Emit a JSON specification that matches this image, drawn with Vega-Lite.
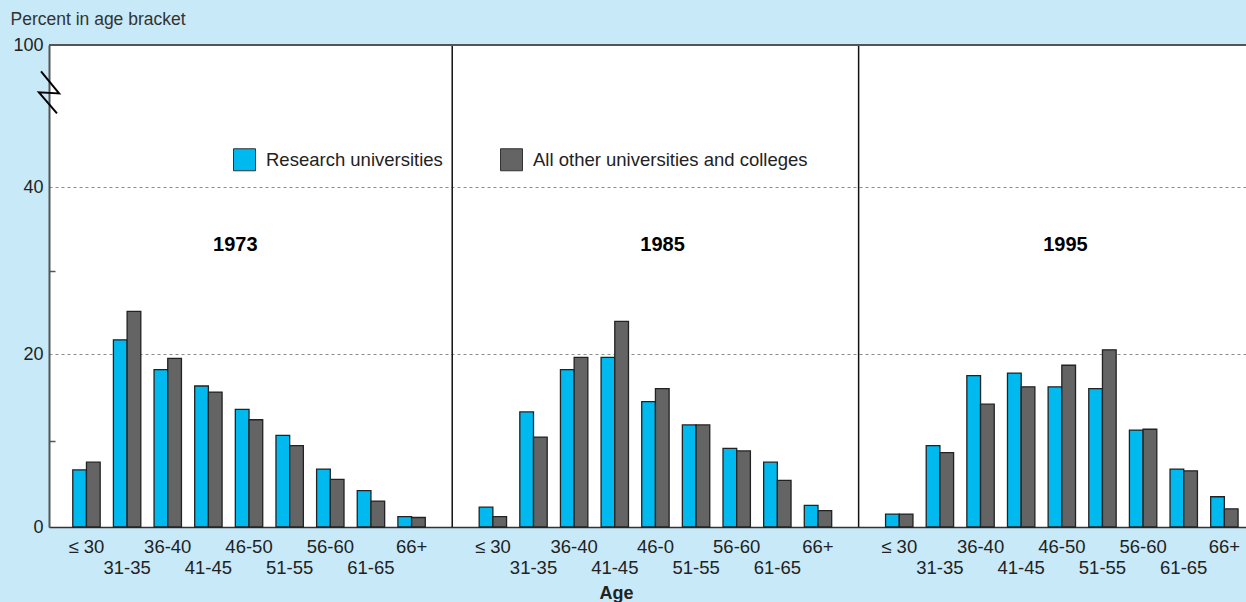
{
  "$schema": "https://vega.github.io/schema/vega-lite/v6.json",
  "width": 1197,
  "height": 482,
  "autosize": {"type": "none"},
  "padding": {"left": 49, "top": 45, "right": 0, "bottom": 75},
  "background": "#c7e9f8",
  "config": {
    "view": {"fill": "white", "stroke": null},
    "font": "Liberation Sans"
  },
  "layer": [
    {
      "data": {"values": [
        {"slot": "1973|0|≤ 30", "series": "Research universities", "value": 6.6},
        {"slot": "1973|1|31-35", "series": "Research universities", "value": 21.7},
        {"slot": "1973|2|36-40", "series": "Research universities", "value": 18.2},
        {"slot": "1973|3|41-45", "series": "Research universities", "value": 16.3},
        {"slot": "1973|4|46-50", "series": "Research universities", "value": 13.6},
        {"slot": "1973|5|51-55", "series": "Research universities", "value": 10.6},
        {"slot": "1973|6|56-60", "series": "Research universities", "value": 6.7},
        {"slot": "1973|7|61-65", "series": "Research universities", "value": 4.2},
        {"slot": "1973|8|66+", "series": "Research universities", "value": 1.2},
        {"slot": "1973|0|≤ 30", "series": "All other universities and colleges", "value": 7.5},
        {"slot": "1973|1|31-35", "series": "All other universities and colleges", "value": 25.1},
        {"slot": "1973|2|36-40", "series": "All other universities and colleges", "value": 19.5},
        {"slot": "1973|3|41-45", "series": "All other universities and colleges", "value": 15.6},
        {"slot": "1973|4|46-50", "series": "All other universities and colleges", "value": 12.4},
        {"slot": "1973|5|51-55", "series": "All other universities and colleges", "value": 9.4},
        {"slot": "1973|6|56-60", "series": "All other universities and colleges", "value": 5.5},
        {"slot": "1973|7|61-65", "series": "All other universities and colleges", "value": 3.0},
        {"slot": "1973|8|66+", "series": "All other universities and colleges", "value": 1.1},
        {"slot": "1985|0|≤ 30", "series": "Research universities", "value": 2.3},
        {"slot": "1985|1|31-35", "series": "Research universities", "value": 13.3},
        {"slot": "1985|2|36-40", "series": "Research universities", "value": 18.2},
        {"slot": "1985|3|41-45", "series": "Research universities", "value": 19.6},
        {"slot": "1985|4|46-0", "series": "Research universities", "value": 14.5},
        {"slot": "1985|5|51-55", "series": "Research universities", "value": 11.8},
        {"slot": "1985|6|56-60", "series": "Research universities", "value": 9.1},
        {"slot": "1985|7|61-65", "series": "Research universities", "value": 7.5},
        {"slot": "1985|8|66+", "series": "Research universities", "value": 2.5},
        {"slot": "1985|0|≤ 30", "series": "All other universities and colleges", "value": 1.2},
        {"slot": "1985|1|31-35", "series": "All other universities and colleges", "value": 10.4},
        {"slot": "1985|2|36-40", "series": "All other universities and colleges", "value": 19.6},
        {"slot": "1985|3|41-45", "series": "All other universities and colleges", "value": 23.9},
        {"slot": "1985|4|46-0", "series": "All other universities and colleges", "value": 16.0},
        {"slot": "1985|5|51-55", "series": "All other universities and colleges", "value": 11.8},
        {"slot": "1985|6|56-60", "series": "All other universities and colleges", "value": 8.8},
        {"slot": "1985|7|61-65", "series": "All other universities and colleges", "value": 5.4},
        {"slot": "1985|8|66+", "series": "All other universities and colleges", "value": 1.9},
        {"slot": "1995|0|≤ 30", "series": "Research universities", "value": 1.5},
        {"slot": "1995|1|31-35", "series": "Research universities", "value": 9.4},
        {"slot": "1995|2|36-40", "series": "Research universities", "value": 17.5},
        {"slot": "1995|3|41-45", "series": "Research universities", "value": 17.8},
        {"slot": "1995|4|46-50", "series": "Research universities", "value": 16.2},
        {"slot": "1995|5|51-55", "series": "Research universities", "value": 16.0},
        {"slot": "1995|6|56-60", "series": "Research universities", "value": 11.2},
        {"slot": "1995|7|61-65", "series": "Research universities", "value": 6.7},
        {"slot": "1995|8|66+", "series": "Research universities", "value": 3.5},
        {"slot": "1995|0|≤ 30", "series": "All other universities and colleges", "value": 1.5},
        {"slot": "1995|1|31-35", "series": "All other universities and colleges", "value": 8.6},
        {"slot": "1995|2|36-40", "series": "All other universities and colleges", "value": 14.2},
        {"slot": "1995|3|41-45", "series": "All other universities and colleges", "value": 16.2},
        {"slot": "1995|4|46-50", "series": "All other universities and colleges", "value": 18.7},
        {"slot": "1995|5|51-55", "series": "All other universities and colleges", "value": 20.5},
        {"slot": "1995|6|56-60", "series": "All other universities and colleges", "value": 11.3},
        {"slot": "1995|7|61-65", "series": "All other universities and colleges", "value": 6.5},
        {"slot": "1995|8|66+", "series": "All other universities and colleges", "value": 2.1}
      ]},
      "layer": [
        {
          "mark": {"type": "bar", "stroke": "#222", "strokeWidth": 1.3},
          "encoding": {
            "x": {
              "field": "slot", "type": "nominal",
              "scale": {
                "domain": ["1973|0|≤ 30","1973|1|31-35","1973|2|36-40","1973|3|41-45","1973|4|46-50","1973|5|51-55","1973|6|56-60","1973|7|61-65","1973|8|66+","g1|0|",
                           "1985|0|≤ 30","1985|1|31-35","1985|2|36-40","1985|3|41-45","1985|4|46-0","1985|5|51-55","1985|6|56-60","1985|7|61-65","1985|8|66+","g2|0|",
                           "1995|0|≤ 30","1995|1|31-35","1995|2|36-40","1995|3|41-45","1995|4|46-50","1995|5|51-55","1995|6|56-60","1995|7|61-65","1995|8|66+"],
                "paddingInner": 0.326, "paddingOuter": 0.39, "align": 0.75
              },
              "axis": {
                "title": "Age",
                "labelExpr": "toNumber(split(datum.value,'|')[1]) % 2 == 1 ? ['', split(datum.value,'|')[2]] : split(datum.value,'|')[2]",
                "ticks": false, "tickSize": 0,
                "domain": true, "domainColor": "#333", "domainWidth": 1.5,
                "labelAngle": 0, "labelFontSize": 18.5, "labelColor": "#222",
                "labelBaseline": "alphabetic", "labelPadding": 25, "labelLineHeight": 21,
                "labelOverlap": false, "labelFlush": false,
                "titleFontSize": 18, "titleFontWeight": "bold", "titleColor": "#222",
                "titleX": 567, "titleY": 71, "titleBaseline": "alphabetic", "titleAlign": "center"
              }
            },
            "xOffset": {
              "field": "series", "type": "nominal",
              "scale": {"domain": ["Research universities", "All other universities and colleges"], "paddingInner": 0, "paddingOuter": 0}
            },
            "y": {
              "field": "value", "type": "quantitative",
              "scale": {"domain": [0, 20, 40, 100], "range": [482, 309, 142, 0]},
              "axis": {
                "values": [0, 20, 40, 100],
                "grid": true, "gridColor": "#8c8c8c", "gridDash": [3, 3], "gridWidth": 1,
                "ticks": false, "tickSize": 0,
                "domainColor": "#555", "domainWidth": 2,
                "labelFontSize": 18, "labelColor": "#222", "labelPadding": 6,
                "title": "Percent in age bracket",
                "titleAngle": 0, "titleAlign": "left", "titleBaseline": "alphabetic",
                "titleX": -39, "titleY": -21,
                "titleFontSize": 17.5, "titleFontWeight": "normal", "titleColor": "#333"
              }
            },
            "color": {
              "field": "series", "type": "nominal",
              "scale": {"domain": ["Research universities", "All other universities and colleges"], "range": ["#00b9ef", "#646464"]},
              "legend": {
                "orient": "none", "legendX": 184, "legendY": 103, "direction": "horizontal",
                "title": null, "symbolType": "square", "symbolSize": 484,
                "symbolStrokeColor": "#333", "symbolStrokeWidth": 1, "symbolOpacity": 1,
                "labelFontSize": 18.5, "labelColor": "#222", "labelOffset": 10,
                "columnPadding": 55, "padding": 0, "labelLimit": 400
              }
            }
          }
        },
        {
          "data": {"values": [{"slot": "g1|0|"}, {"slot": "g2|0|"}]},
          "mark": {"type": "rule", "stroke": "#111", "strokeWidth": 1.5},
          "encoding": {
            "x": {"field": "slot", "type": "nominal"},
            "y": {"datum": 0},
            "y2": {"datum": 100}
          }
        },
        {
          "data": {"values": [{"edge": "top"}]},
          "mark": {"type": "rule", "stroke": "#555", "strokeWidth": 2},
          "encoding": {"y": {"datum": 100}}
        },
        {
          "data": {"values": [{"year": "1973"}]},
          "mark": {"type": "text", "fontSize": 20, "fontWeight": "bold", "align": "center", "baseline": "middle", "fill": "#000"},
          "encoding": {
            "x": {"datum": "1973|4|46-50", "type": "nominal", "bandPosition": 0},
            "y": {"datum": 33},
            "text": {"field": "year"}
          }
        },
        {
          "data": {"values": [{"year": "1985"}]},
          "mark": {"type": "text", "fontSize": 20, "fontWeight": "bold", "align": "center", "baseline": "middle", "fill": "#000"},
          "encoding": {
            "x": {"datum": "1985|4|46-0", "type": "nominal", "bandPosition": 0.76},
            "y": {"datum": 33},
            "text": {"field": "year"}
          }
        },
        {
          "data": {"values": [{"year": "1995"}]},
          "mark": {"type": "text", "fontSize": 20, "fontWeight": "bold", "align": "center", "baseline": "middle", "fill": "#000"},
          "encoding": {
            "x": {"datum": "1995|4|46-50", "type": "nominal", "bandPosition": 0.63},
            "y": {"datum": 33},
            "text": {"field": "year"}
          }
        }
      ]
    },
    {
      "data": {"values": [{"mark": "axis break"}]},
      "mark": {"type": "point", "shape": "M -0.38 -1 L 0.48 0.05 L -0.48 0 L 0.38 1", "size": 1764, "filled": false, "stroke": "#000", "strokeWidth": 2, "opacity": 1},
      "encoding": {
        "x": {"datum": 0, "type": "quantitative", "scale": {"domain": [0, 1]}, "axis": null},
        "y": {
          "datum": 80,
          "axis": {"orient": "left", "values": [10, 30], "labels": false, "domain": false, "grid": false, "ticks": true, "tickSize": -6, "tickColor": "#555", "tickWidth": 1.5, "title": null}
        }
      }
    }
  ],
  "resolve": {"scale": {"x": "independent"}, "axis": {"x": "independent", "y": "independent"}}
}
